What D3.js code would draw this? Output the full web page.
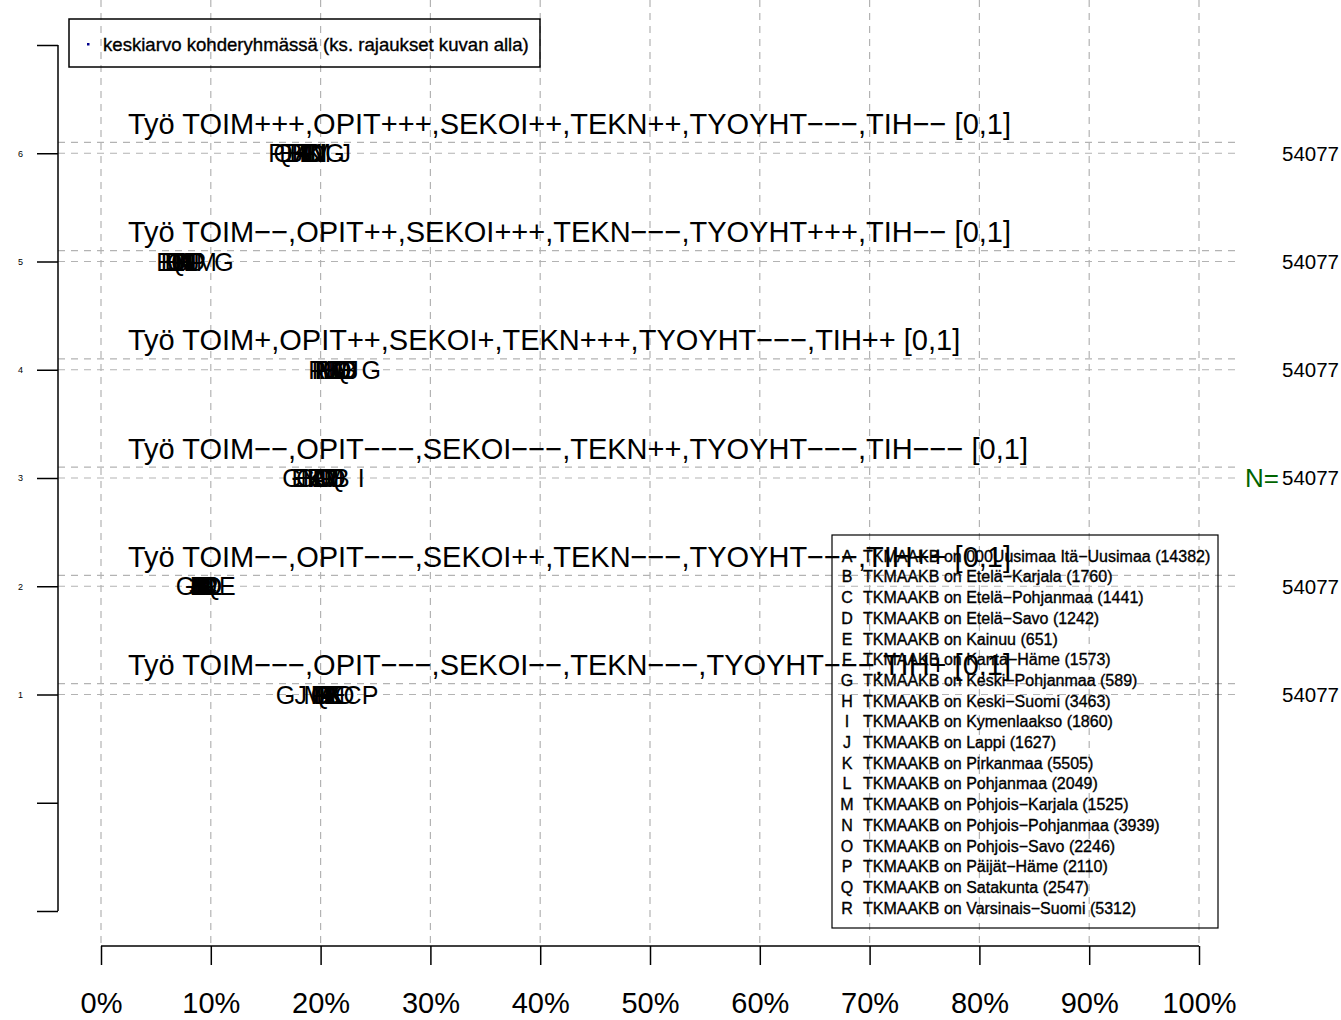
<!DOCTYPE html>
<html>
<head>
<meta charset="utf-8">
<script src="https://cdn.jsdelivr.net/npm/d3@7"></script>
<style>
  body { margin: 0; background: #fff; }
  svg { display: block; font-family: "Liberation Sans", Arial, sans-serif; }
</style>
</head>
<body>
<svg id="chart" width="1341" height="1020"></svg>
<script>
// rows from top (6) to bottom (1)
const rowValues = [6, 5, 4, 3, 2, 1]
const rowTitles = [
  "Työ TOIM+++,OPIT+++,SEKOI++,TEKN++,TYOYHT−−−,TIH−− [0,1]",
  "Työ TOIM−−,OPIT++,SEKOI+++,TEKN−−−,TYOYHT+++,TIH−− [0,1]",
  "Työ TOIM+,OPIT++,SEKOI+,TEKN+++,TYOYHT−−−,TIH++ [0,1]",
  "Työ TOIM−−,OPIT−−−,SEKOI−−−,TEKN++,TYOYHT−−−,TIH−−− [0,1]",
  "Työ TOIM−−,OPIT−−−,SEKOI++,TEKN−−−,TYOYHT−−−,TIH++ [0,1]",
  "Työ TOIM−−−,OPIT−−−,SEKOI−−,TEKN−−−,TYOYHT−−−,TIH+ [0,1]"
]
const rowN = [54077, 54077, 54077, 54077, 54077, 54077]

const letters = "ABCDEFGHIJKLMNOPQR".split("")
const regions = [
  "TKMAAKB on 000Uusimaa Itä−Uusimaa", "TKMAAKB on Etelä−Karjala", "TKMAAKB on Etelä−Pohjanmaa",
  "TKMAAKB on Etelä−Savo", "TKMAAKB on Kainuu", "TKMAAKB on Kanta−Häme",
  "TKMAAKB on Keski−Pohjanmaa", "TKMAAKB on Keski−Suomi", "TKMAAKB on Kymenlaakso",
  "TKMAAKB on Lappi", "TKMAAKB on Pirkanmaa", "TKMAAKB on Pohjanmaa",
  "TKMAAKB on Pohjois−Karjala", "TKMAAKB on Pohjois−Pohjanmaa", "TKMAAKB on Pohjois−Savo",
  "TKMAAKB on Päijät−Häme", "TKMAAKB on Satakunta", "TKMAAKB on  Varsinais−Suomi"
]
const regionN = [14382, 1760, 1441, 1242, 651, 1573, 589, 3463, 1860, 1627, 5505, 2049, 1525, 3939, 2246, 2110, 2547, 5312]

// share (%) per region A..R, one array per row
const share6 = [18.4, 17.6, 19.1, 19.6, 17.0, 18.9, 21.3, 18.0, 20.2, 22.2, 19.4, 18.7, 20.0, 19.8, 19.3, 16.0, 16.6, 18.2]
const share5 = [7.8, 5.8, 7.2, 6.6, 6.2, 8.2, 11.2, 7.6, 8.0, 8.4, 7.4, 7.0, 9.6, 7.9, 8.6, 8.8, 6.9, 7.3]
const share4 = [21.6, 22.6, 21.0, 22.0, 22.2, 19.9, 24.6, 20.6, 21.4, 22.9, 21.2, 20.8, 21.8, 20.4, 22.4, 20.2, 21.9, 19.7]
const share3 = [19.8, 21.9, 18.6, 20.2, 18.1, 20.6, 17.4, 19.2, 23.7, 20.9, 19.5, 20.0, 21.2, 19.0, 20.4, 19.6, 21.4, 20.8]
const share2 = [9.4, 9.0, 9.8, 10.2, 11.5, 9.6, 7.7, 9.2, 10.0, 8.6, 9.5, 10.4, 9.1, 8.9, 9.7, 9.3, 10.1, 9.9]
const share1 = [20.6, 21.0, 22.9, 20.2, 21.6, 19.8, 16.8, 20.4, 19.6, 18.2, 21.2, 20.9, 19.4, 21.4, 22.2, 24.5, 20.0, 20.7]
const shares = [share6, share5, share4, share3, share2, share1]

const xTicks = [0, 10, 20, 30, 40, 50, 60, 70, 80, 90, 100]
const yTicks = [-1, 0, 1, 2, 3, 4, 5, 6, 7]

const svg = d3.select("#chart")

const x = d3.scaleLinear().domain([0, 100]).range([101, 1199])
const y = d3.scaleLinear().domain([-1, 7]).range([911, 45])

const gridColor = "#b3b3b3"
const dash = "7,6"

// vertical grid
svg.append("g").selectAll("line").data(xTicks).join("line")
  .attr("x1", d => x(d)).attr("x2", d => x(d))
  .attr("y1", 0).attr("y2", 944)
  .attr("stroke", gridColor).attr("stroke-width", 1.2)
  .attr("stroke-dasharray", dash)

// horizontal grid, at each row and slightly above it
const hLines = rowValues.flatMap(v => [v, v + 0.1])
svg.append("g").selectAll("line").data(hLines).join("line")
  .attr("x1", 58).attr("x2", 1241)
  .attr("y1", d => y(d)).attr("y2", d => y(d))
  .attr("stroke", gridColor).attr("stroke-width", 1.2)
  .attr("stroke-dasharray", dash)

// row titles
svg.append("g").selectAll("text").data(rowTitles).join("text")
  .attr("x", 128)
  .attr("y", (d, i) => y(rowValues[i] + 0.18))
  .attr("font-size", 29)
  .text(d => d)

// letters
const rowsG = svg.append("g").selectAll("g").data(shares).join("g")
rowsG.selectAll("text").data((d, i) => d.map((s, j) => ({ s, l: letters[j], v: rowValues[i] })))
  .join("text")
  .attr("x", d => x(d.s))
  .attr("y", d => y(d.v))
  .attr("dy", "0.36em")
  .attr("text-anchor", "middle")
  .attr("font-size", 25)
  .text(d => d.l)

// N values on the right
svg.append("g").selectAll("text").data(rowN).join("text")
  .attr("x", 1282)
  .attr("y", (d, i) => y(rowValues[i]))
  .attr("dy", "0.36em")
  .attr("font-size", 20.5)
  .text(d => d)

svg.append("text")
  .attr("x", 1279)
  .attr("y", y(3))
  .attr("dy", "0.36em")
  .attr("text-anchor", "end")
  .attr("font-size", 26)
  .attr("fill", "#006400")
  .text("N=")

// y axis
const yAxis = d3.axisLeft(y).tickValues(yTicks).tickSize(21).tickPadding(14)
  .tickFormat(d => (d >= 1 && d <= 6) ? d : "")
const gy = svg.append("g").attr("transform", "translate(58,0)").call(yAxis)
gy.select(".domain").attr("d", "M0," + y(7) + "V" + y(-1)).attr("stroke-width", 1.5)
gy.selectAll(".tick line").attr("stroke-width", 1.5)
gy.selectAll("text").attr("font-size", 9).attr("font-family", "Liberation Sans, Arial, sans-serif")

// x axis
const xAxis = d3.axisBottom(x).tickValues(xTicks).tickSize(19).tickPadding(27)
  .tickFormat(d => d + "%")
const gx = svg.append("g").attr("transform", "translate(0,946)").call(xAxis)
gx.select(".domain").attr("d", "M" + x(0) + ",0H" + x(100)).attr("stroke-width", 1.5)
gx.selectAll(".tick line").attr("stroke-width", 1.5)
gx.selectAll("text").attr("font-size", 29).attr("font-family", "Liberation Sans, Arial, sans-serif")

// top-left legend
svg.append("rect").attr("x", 69).attr("y", 19).attr("width", 471).attr("height", 48)
  .attr("fill", "none").attr("stroke", "#000").attr("stroke-width", 1.5)
svg.append("rect").attr("x", 87).attr("y", 43).attr("width", 2.5).attr("height", 2.5)
  .attr("fill", "#00008b")
svg.append("text").attr("x", 103).attr("y", 44).attr("dy", "0.36em")
  .attr("font-size", 18.6).attr("stroke", "#000").attr("stroke-width", 0.35)
  .text("keskiarvo kohderyhmässä (ks. rajaukset kuvan alla)")

// right legend
svg.append("rect").attr("x", 832).attr("y", 535).attr("width", 386).attr("height", 393)
  .attr("fill", "none").attr("stroke", "#000").attr("stroke-width", 1.2)
const leg = svg.append("g").selectAll("g").data(letters).join("g")
  .attr("transform", (d, i) => `translate(0,${556 + i * 20.7})`)
leg.append("text").attr("x", 847).attr("dy", "0.36em").attr("text-anchor", "middle")
  .attr("font-size", 16).attr("stroke", "#000").attr("stroke-width", 0.35).text(d => d)
leg.append("text").attr("x", 863).attr("dy", "0.36em")
  .attr("font-size", 16).attr("stroke", "#000").attr("stroke-width", 0.35)
  .text((d, i) => regions[i] + " (" + regionN[i] + ")")
</script>
</body>
</html>
